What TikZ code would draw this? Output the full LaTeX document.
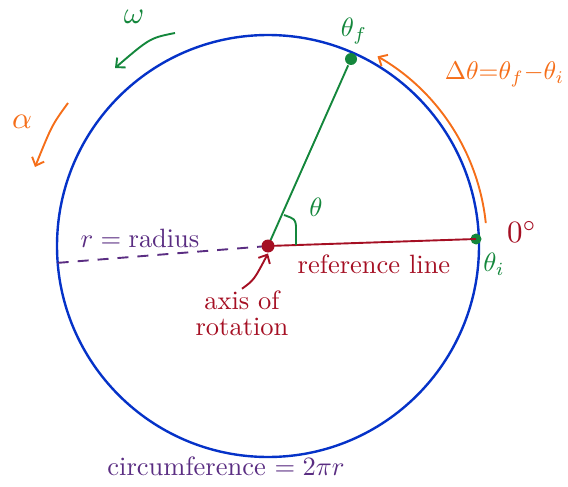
\documentclass[tikz,border=0pt]{standalone}
\usetikzlibrary{arrows.meta}
\definecolor{ringblue}{RGB}{5,50,200}
\definecolor{markgreen}{RGB}{20,135,60}
\definecolor{markorange}{RGB}{245,110,25}
\definecolor{markred}{RGB}{165,15,35}
\definecolor{markpurple}{RGB}{90,45,130}
\newcommand\hw[1]{\scalebox{2.65}{#1}}
\newcommand\hwbig[1]{\scalebox{3.1}{#1}}
\tikzset{
  dot/.style={circle,inner sep=0pt,minimum size=#1},
  hand/.style={inner sep=1pt},
  tip/.style={-{Straight Barb[length=7pt,width=13pt]}}
}
\begin{document}
\begin{tikzpicture}[x=1pt,y=-1pt,line width=1.9pt]
	\useasboundingbox(0,0)rectangle(568,487);
	\coordinate(axis)at(268,246);
	\draw[ringblue,line width=2.4pt](axis)circle[radius=211];
	% points on the rim
	\node[dot=12pt,fill=markgreen](thf)at(351,59){};
	\node[dot=11pt,fill=markgreen](thi)at(476,239){};
	\draw[markgreen](axis)--(thf);
	\draw[markred](axis)--(thi.center);
	\draw[markpurple,dashed,dash pattern=on 11pt off 9pt](axis)--(56,263);
	\node[dot=13pt,fill=markred](ax)at(axis){};
	\draw[markgreen](296,245)--(296,226)..controls(295,219)..(284,215);
	% arc from theta_i to theta_f
	\draw[markorange,tip](axis)++(-6:219)arc[start angle=-6,end angle=-60,radius=219];
	\coordinate(wa)at(175,33);\coordinate(wb)at(115,68);
	\draw[markgreen,tip](wa)..controls(150,38)..(wb);
	\coordinate(aa)at(68,103);\coordinate(ab)at(35,167);
	\draw[markorange,tip](aa)..controls(52,125)..(ab);
	% labels
	\node[hand,text=markgreen](w)at(134,17){\hwbig{$\omega$}};
	\node[hand,text=markorange](al)at(22,122){\hwbig{$\alpha$}};
	\node[hand,text=markgreen](lf)at(354,31){\hw{$\theta_f$}};
	\node[hand,text=markgreen](li)at(494,264){\hw{$\theta_i$}};
	\node[hand,text=markgreen](lt)at(316,207){\hw{$\theta$}};
	\node[hand,text=markorange,anchor=east](dt)at(566,74){\scalebox{2.55}{$\Delta\theta{=}\theta_f{-}\theta_i$}};
	\node[hand,text=markred](zero)at(522,232){\hwbig{$0^\circ$}};
	\node[hand,text=markpurple](rr)at(140,238){\hw{$r=\mathrm{radius}$}};
	\node[hand,text=markred](ref)at(374,264){\hw{reference line}};
	\node[hand,text=markred](axl)at(242,313){\hw{\shortstack{axis of\\rotation}}};
	\draw[markred,tip](axl.north)..controls(254,280)..(ax.south);
	\node[hand,text=markpurple](circ)at(226,466){\hw{circumference $=2\pi r$}};
\end{tikzpicture}
\end{document}
